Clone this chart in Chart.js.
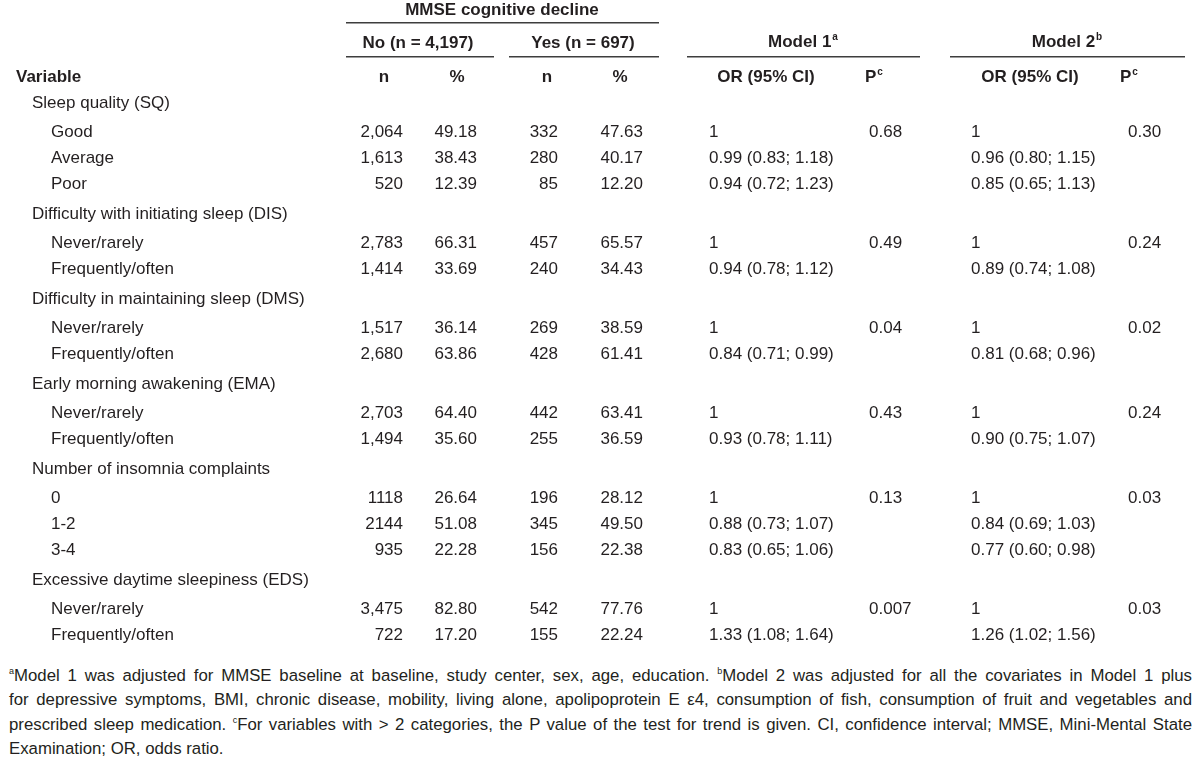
<!DOCTYPE html>
<html>
<head>
<meta charset="utf-8">
<script src="https://cdn.jsdelivr.net/npm/chart.js@4/dist/chart.umd.min.js"></script>
<style>
  body { margin: 0; background: #fff; }
  #wrap { position: relative; width: 1200px; height: 660px; }
  #note { position: absolute; left: 9px; top: 664px; width: 1183px; color: #231f20;
          font-family: "Liberation Sans", Arial, sans-serif; font-size: 16.8px; }
  #note div { line-height: 24.3px; text-align: justify; text-align-last: justify; white-space: nowrap; }
  #note div.last { text-align-last: left; }
  #note sup { font-size: 9px; vertical-align: 7px; line-height: 0; }
</style>
</head>
<body>
<div id="wrap"><canvas id="table"></canvas></div>
<div id="note">
  <div><sup>a</sup>Model 1 was adjusted for MMSE baseline at baseline, study center, sex, age, education. <sup>b</sup>Model 2 was adjusted for all the covariates in Model 1 plus</div>
  <div>for depressive symptoms, BMI, chronic disease, mobility, living alone, apolipoprotein E ε4, consumption of fish, consumption of fruit and vegetables and</div>
  <div>prescribed sleep medication. <sup>c</sup>For variables with &gt; 2 categories, the P value of the test for trend is given. CI, confidence interval; MMSE, Mini-Mental State</div>
  <div class="last">Examination; OR, odds ratio.</div>
</div>
<script>
// table data
const groups = [
  'Sleep quality (SQ)',
  'Difficulty with initiating sleep (DIS)',
  'Difficulty in maintaining sleep (DMS)',
  'Early morning awakening (EMA)',
  'Number of insomnia complaints',
  'Excessive daytime sleepiness (EDS)'
];
const categories = [
  ['Good', 'Average', 'Poor'],
  ['Never/rarely', 'Frequently/often'],
  ['Never/rarely', 'Frequently/often'],
  ['Never/rarely', 'Frequently/often'],
  ['0', '1-2', '3-4'],
  ['Never/rarely', 'Frequently/often']
];
const noN = [['2,064', '1,613', '520'], ['2,783', '1,414'], ['1,517', '2,680'], ['2,703', '1,494'], ['1118', '2144', '935'], ['3,475', '722']];
const noPct = [[49.18, 38.43, 12.39], [66.31, 33.69], [36.14, 63.86], [64.40, 35.60], [26.64, 51.08, 22.28], [82.80, 17.20]];
const yesN = [[332, 280, 85], [457, 240], [269, 428], [442, 255], [196, 345, 156], [542, 155]];
const yesPct = [[47.63, 40.17, 12.20], [65.57, 34.43], [38.59, 61.41], [63.41, 36.59], [28.12, 49.50, 22.38], [77.76, 22.24]];
const m1OR = [[1, 0.99, 0.94], [1, 0.94], [1, 0.84], [1, 0.93], [1, 0.88, 0.83], [1, 1.33]];
const m1Lo = [[null, 0.83, 0.72], [null, 0.78], [null, 0.71], [null, 0.78], [null, 0.73, 0.65], [null, 1.08]];
const m1Hi = [[null, 1.18, 1.23], [null, 1.12], [null, 0.99], [null, 1.11], [null, 1.07, 1.06], [null, 1.64]];
const m1P = [0.68, 0.49, 0.04, 0.43, 0.13, 0.007];
const m2OR = [[1, 0.96, 0.85], [1, 0.89], [1, 0.81], [1, 0.90], [1, 0.84, 0.77], [1, 1.26]];
const m2Lo = [[null, 0.80, 0.65], [null, 0.74], [null, 0.68], [null, 0.75], [null, 0.69, 0.60], [null, 1.02]];
const m2Hi = [[null, 1.15, 1.13], [null, 1.08], [null, 0.96], [null, 1.07], [null, 1.03, 0.98], [null, 1.56]];
const m2P = [0.30, 0.24, 0.02, 0.24, 0.03, 0.03];

// layout (x in px units of the x scale, y in row units of the y scale)
const col = {
  variable: 16, group: 32, cat: 51,
  noN: 403, noPct: 477, yesN: 558, yesPct: 643,
  m1OR: 709, m1P: 869, m2OR: 971, m2P: 1128
};
const ROW_PX = 26;
const GROUP_BEFORE = 1.15;
const GROUP_AFTER = 1.12;
const FONT = '"Liberation Sans", Arial, sans-serif';
const INK = '#231f20';

function fmtOR(or, lo, hi) {
  if (lo === null) return String(or);
  return or.toFixed(2) + ' (' + lo.toFixed(2) + '; ' + hi.toFixed(2) + ')';
}
function fmtP(p) {
  return p < 0.01 ? p.toFixed(3) : p.toFixed(2);
}

// build rows with their y positions
const rows = [];
let yPos = 2.96;
groups.forEach((g, gi) => {
  yPos += gi === 0 ? 1 : GROUP_BEFORE;
  rows.push({ kind: 'group', label: g, y: yPos });
  categories[gi].forEach((c, ci) => {
    yPos += ci === 0 ? GROUP_AFTER : 1;
    rows.push({
      kind: 'cat', label: c, y: yPos,
      cells: [
        [noN[gi][ci], col.noN, 'right'],
        [noPct[gi][ci].toFixed(2), col.noPct, 'right'],
        [String(yesN[gi][ci]), col.yesN, 'right'],
        [yesPct[gi][ci].toFixed(2), col.yesPct, 'right'],
        [fmtOR(m1OR[gi][ci], m1Lo[gi][ci], m1Hi[gi][ci]), col.m1OR, 'left'],
        [ci === 0 ? fmtP(m1P[gi]) : '', col.m1P, 'left'],
        [fmtOR(m2OR[gi][ci], m2Lo[gi][ci], m2Hi[gi][ci]), col.m2OR, 'left'],
        [ci === 0 ? fmtP(m2P[gi]) : '', col.m2P, 'left']
      ]
    });
  });
});

function drawSup(ctx, text, sup, x, y, align) {
  ctx.font = 'bold 17px ' + FONT;
  const w1 = ctx.measureText(text).width;
  ctx.font = 'bold 10px ' + FONT;
  const w2 = ctx.measureText(sup).width + 1;
  let left = x;
  if (align === 'center') left = x - (w1 + w2) / 2;
  ctx.textAlign = 'left';
  ctx.font = 'bold 17px ' + FONT;
  ctx.fillText(text, left, y);
  ctx.font = 'bold 10px ' + FONT;
  ctx.fillText(sup, left + w1 + 1, y - 5);
}

const tablePlugin = {
  id: 'tableText',
  afterDraw(chart) {
    const ctx = chart.ctx;
    const sx = chart.scales.x;
    const sy = chart.scales.y;
    const X = v => sx.getPixelForValue(v);
    const Y = v => sy.getPixelForValue(v);
    ctx.save();
    ctx.fillStyle = INK;
    ctx.textBaseline = 'middle';

    // header text
    ctx.font = 'bold 17px ' + FONT;
    ctx.textAlign = 'center';
    ctx.fillText('MMSE cognitive decline', X(502), Y(10 / ROW_PX));
    ctx.fillText('No (n = 4,197)', X(418), Y(43 / ROW_PX));
    ctx.fillText('Yes (n = 697)', X(583), Y(43 / ROW_PX));
    drawSup(ctx, 'Model 1', 'a', X(803), Y(42 / ROW_PX), 'center');
    drawSup(ctx, 'Model 2', 'b', X(1067), Y(42 / ROW_PX), 'center');

    ctx.font = 'bold 17px ' + FONT;
    ctx.textAlign = 'left';
    ctx.fillText('Variable', X(col.variable), Y(2.96));
    ctx.textAlign = 'center';
    ctx.fillText('n', X(384), Y(2.96));
    ctx.fillText('%', X(457), Y(2.96));
    ctx.fillText('n', X(547), Y(2.96));
    ctx.fillText('%', X(620), Y(2.96));
    ctx.fillText('OR (95% CI)', X(766), Y(2.96));
    ctx.fillText('OR (95% CI)', X(1030), Y(2.96));
    drawSup(ctx, 'P', 'c', X(865), Y(2.96), 'left');
    drawSup(ctx, 'P', 'c', X(1120), Y(2.96), 'left');

    // header rules
    ctx.strokeStyle = '#3d3d3d';
    ctx.lineWidth = 1.4;
    const rule = (x1, x2, yv) => {
      ctx.beginPath();
      ctx.moveTo(X(x1), Y(yv));
      ctx.lineTo(X(x2), Y(yv));
      ctx.stroke();
    };
    rule(346, 659, 22.7 / ROW_PX);
    rule(346, 494, 56.7 / ROW_PX);
    rule(509, 659, 56.7 / ROW_PX);
    rule(687, 920, 56.7 / ROW_PX);
    rule(950, 1185, 56.7 / ROW_PX);

    // body
    ctx.font = '17px ' + FONT;
    rows.forEach(r => {
      const yy = Y(r.y);
      ctx.textAlign = 'left';
      if (r.kind === 'group') {
        ctx.fillText(r.label, X(col.group), yy);
        return;
      }
      ctx.fillText(r.label, X(col.cat), yy);
      r.cells.forEach(([txt, xv, align]) => {
        ctx.textAlign = align;
        ctx.fillText(txt, X(xv), yy);
      });
    });
    ctx.restore();
  }
};

new Chart(document.getElementById('table'), {
  type: 'scatter',
  data: { datasets: [] },
  options: {
    responsive: true,
    maintainAspectRatio: false,
    animation: false,
    layout: { padding: 0 },
    plugins: { legend: { display: false }, tooltip: { enabled: false } },
    scales: {
      x: { type: 'linear', min: 0, max: 1200, display: false },
      y: { type: 'linear', min: 0, max: 660 / ROW_PX, reverse: true, display: false }
    }
  },
  plugins: [tablePlugin]
});
</script>
</body>
</html>
